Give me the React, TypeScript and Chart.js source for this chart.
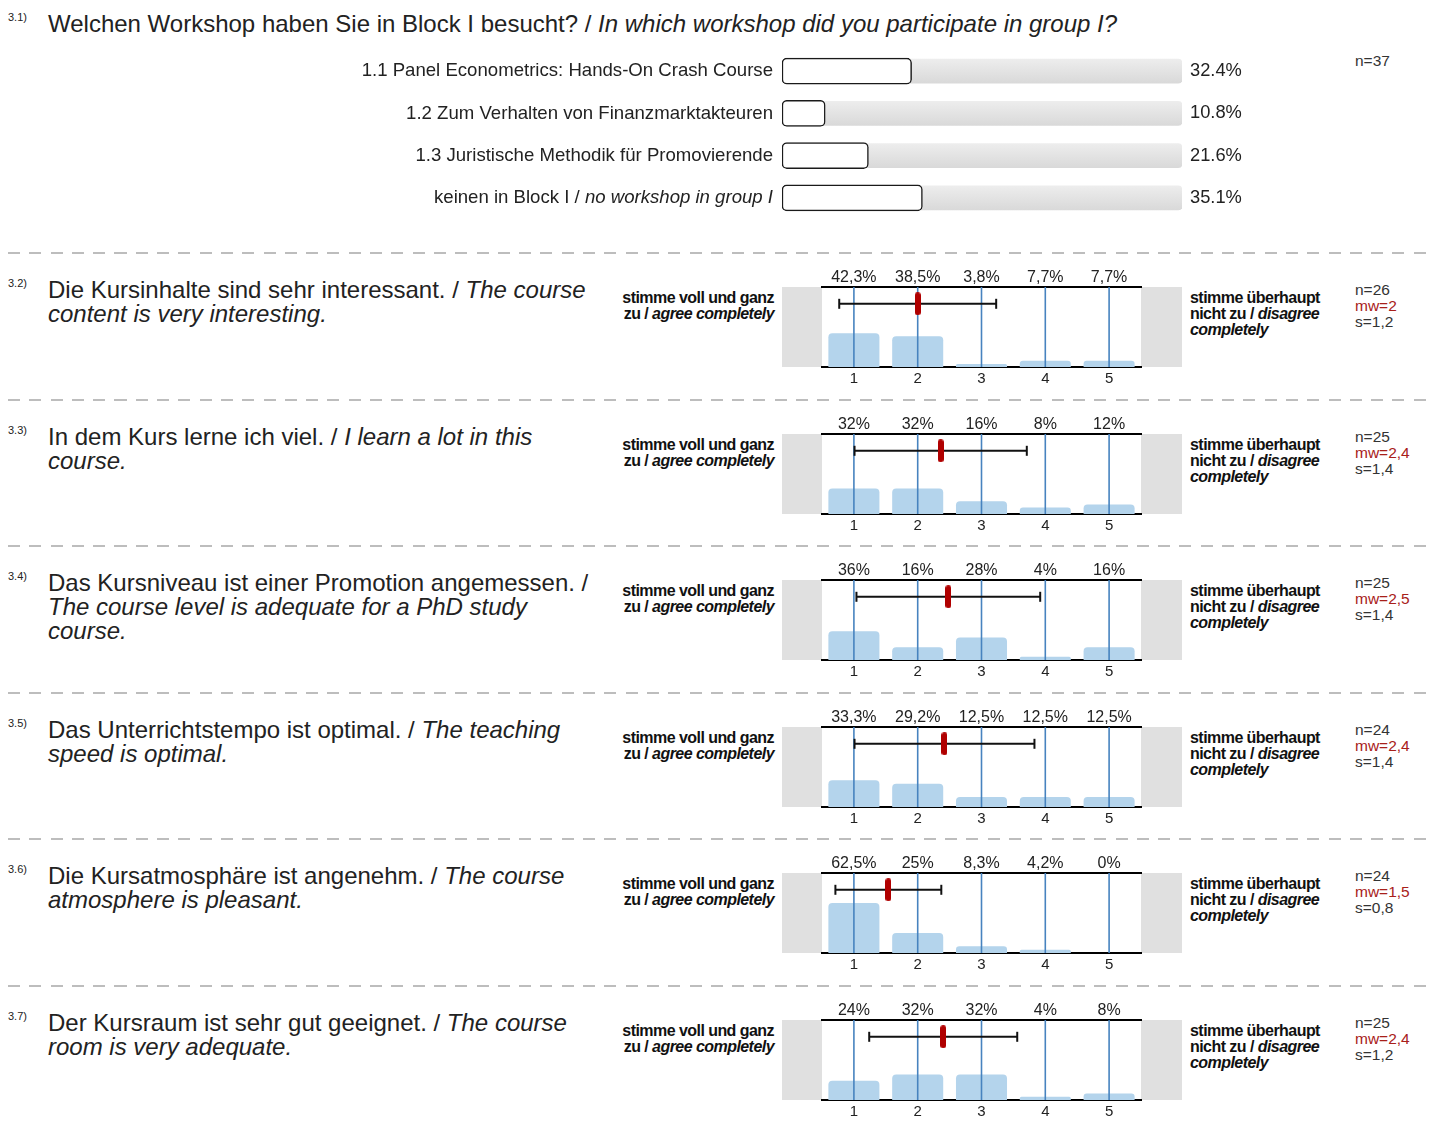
import React, { useEffect, useRef } from "react";
import { Chart, registerables } from "chart.js";

Chart.register(...registerables);

const FONT = '"Liberation Sans", Arial, Helvetica, sans-serif';
const TEXT = "#222222";

// ---------- 3.1 data ----------
const workshopLabels = [
  "1.1 Panel Econometrics: Hands-On Crash Course",
  "1.2 Zum Verhalten von Finanzmarktakteuren",
  "1.3 Juristische Methodik für Promovierende",
  "keinen in Block I / no workshop in group I",
];
const workshopPct = [32.4, 10.8, 21.6, 35.1];
const workshopN = 37;
const TRACK_MAX = 100;

// ---------- scale questions ----------
const scaleTicks = [1, 2, 3, 4, 5];
const q32Pct = [42.3, 38.5, 3.8, 7.7, 7.7];
const q33Pct = [32, 32, 16, 8, 12];
const q34Pct = [36, 16, 28, 4, 16];
const q35Pct = [33.3, 29.2, 12.5, 12.5, 12.5];
const q36Pct = [62.5, 25, 8.3, 4.2, 0];
const q37Pct = [24, 32, 32, 4, 8];
const questionPct = [q32Pct, q33Pct, q34Pct, q35Pct, q36Pct, q37Pct];
const questionIds = ["3.2)", "3.3)", "3.4)", "3.5)", "3.6)", "3.7)"];
const questionN = [26, 25, 25, 24, 24, 25];
const questionMean = [2.0, 2.36, 2.48, 2.42, 1.54, 2.4];
const questionSd = [1.23, 1.35, 1.44, 1.41, 0.83, 1.16];

type Seg = { t: string; i?: boolean };
const questionLines: Seg[][][] = [
  [[{ t: "Die Kursinhalte sind sehr interessant. / " }, { t: "The course", i: true }], [{ t: "content is very interesting.", i: true }]],
  [[{ t: "In dem Kurs lerne ich viel. / " }, { t: "I learn a lot in this", i: true }], [{ t: "course.", i: true }]],
  [[{ t: "Das Kursniveau ist einer Promotion angemessen. /" }], [{ t: "The course level is adequate for a PhD study", i: true }], [{ t: "course.", i: true }]],
  [[{ t: "Das Unterrichtstempo ist optimal. / " }, { t: "The teaching", i: true }], [{ t: "speed is optimal.", i: true }]],
  [[{ t: "Die Kursatmosphäre ist angenehm. / " }, { t: "The course", i: true }], [{ t: "atmosphere is pleasant.", i: true }]],
  [[{ t: "Der Kursraum ist sehr gut geeignet. / " }, { t: "The course", i: true }], [{ t: "room is very adequate.", i: true }]],
];

const ERR_Y = 79;

const fmtPct = (v: number) => String(v).replace(".", ",") + "%";
const fmtStat = (v: number) => {
  const r = Math.round(v * 10 + 1e-9) / 10;
  return (Number.isInteger(r) ? String(r) : r.toFixed(1)).replace(".", ",");
};

function makeMarker(): HTMLCanvasElement {
  const c = document.createElement("canvas");
  const w = 6, h = 23, r = 3;
  c.width = w;
  c.height = h;
  const g = c.getContext("2d")!;
  g.fillStyle = "#b00000";
  g.beginPath();
  g.moveTo(0, r);
  g.arc(r, r, r, Math.PI, 2 * Math.PI);
  g.lineTo(w, h - r);
  g.arc(r, h - r, r, 0, Math.PI);
  g.closePath();
  g.fill();
  return c;
}

function ChartCanvas(props: { left: number; top: number; width: number; height: number; build: () => any }) {
  const ref = useRef<HTMLCanvasElement>(null);
  useEffect(() => {
    const chart = new Chart(ref.current!, props.build());
    return () => chart.destroy();
  }, []);
  return (
    <canvas
      ref={ref}
      width={props.width}
      height={props.height}
      style={{ position: "absolute", left: props.left, top: props.top, width: props.width, height: props.height }}
    />
  );
}

function workshopConfig() {
  const labelPlugin = {
    id: "wsLabels",
    afterDraw(chart: any) {
      const { ctx, chartArea } = chart;
      const y = chart.scales.y;
      ctx.save();
      ctx.fillStyle = TEXT;
      ctx.textBaseline = "middle";
      workshopLabels.forEach((lab, i) => {
        const py = y.getPixelForValue(i);
        const parts = lab.split(" / ");
        const segs: Seg[] = parts.length > 1 ? [{ t: parts[0] + " / " }, { t: parts.slice(1).join(" / "), i: true }] : [{ t: lab }];
        let x = chartArea.left - 9;
        ctx.textAlign = "right";
        for (let k = segs.length - 1; k >= 0; k--) {
          ctx.font = `${segs[k].i ? "italic " : ""}18.6px ${FONT}`;
          ctx.fillText(segs[k].t, x, py);
          x -= ctx.measureText(segs[k].t).width;
        }
        ctx.textAlign = "left";
        ctx.font = `18.3px ${FONT}`;
        ctx.fillText(workshopPct[i].toFixed(1) + "%", chartArea.right + 8, py);
      });
      ctx.restore();
    },
  };
  return {
    type: "bar",
    data: {
      labels: workshopLabels,
      datasets: [
        {
          data: workshopPct,
          backgroundColor: "#ffffff",
          borderColor: "#1a1a1a",
          borderWidth: 1.5,
          borderRadius: 5,
          borderSkipped: false,
          barThickness: 26,
          grouped: false,
          order: 0,
        },
        {
          data: workshopPct.map(() => TRACK_MAX),
          backgroundColor: (c: any) => {
            const ch = c.chart;
            const ys = ch.scales && ch.scales.y;
            if (!ys || c.dataIndex === undefined) return "#e2e2e2";
            const py = ys.getPixelForValue(c.dataIndex);
            if (!isFinite(py)) return "#e2e2e2";
            const g = ch.ctx.createLinearGradient(0, py - 12, 0, py + 12);
            g.addColorStop(0, "#ededed");
            g.addColorStop(1, "#d9d9d9");
            return g;
          },
          borderWidth: 0,
          borderRadius: 4,
          borderSkipped: false,
          barThickness: 24,
          grouped: false,
          order: 1,
        },
      ],
    },
    options: {
      indexAxis: "y",
      responsive: false,
      animation: false,
      events: [],
      layout: { padding: { left: 482, right: 118, top: 10, bottom: 11 } },
      scales: {
        x: { display: false, min: 0, max: TRACK_MAX },
        y: { display: false },
      },
      plugins: { legend: { display: false }, tooltip: { enabled: false } },
    },
    plugins: [labelPlugin],
  };
}

function scaleConfig(qi: number, marker: HTMLCanvasElement) {
  const pct = questionPct[qi];
  const mean = questionMean[qi];
  const sd = questionSd[qi];
  const sidePlugin = {
    id: "sides",
    beforeDraw(chart: any) {
      const { ctx, chartArea, width } = chart;
      ctx.save();
      ctx.fillStyle = "#e0e0e0";
      ctx.fillRect(0, chartArea.top, chartArea.left, chartArea.bottom - chartArea.top);
      ctx.fillRect(chartArea.right, chartArea.top, width - chartArea.right, chartArea.bottom - chartArea.top);
      ctx.restore();
    },
    afterDatasetDraw(chart: any, args: any) {
      if (args.index !== 0) return;
      const { ctx, chartArea } = chart;
      const xs = chart.scales.x;
      ctx.save();
      ctx.strokeStyle = "#4783bf";
      ctx.lineWidth = 1.6;
      scaleTicks.forEach((t) => {
        const px = xs.getPixelForValue(t);
        ctx.beginPath();
        ctx.moveTo(px, chartArea.top);
        ctx.lineTo(px, chartArea.bottom);
        ctx.stroke();
      });
      ctx.restore();
    },
  };
  const setTicks = (s: any) => {
    s.ticks = scaleTicks.map((v) => ({ value: v }));
  };
  return {
    type: "bar",
    data: {
      datasets: [
        {
          type: "bar",
          data: scaleTicks.map((x, i) => ({ x, y: pct[i] })),
          backgroundColor: "#b4d4ec",
          borderRadius: 4,
          borderSkipped: "start",
          barPercentage: 0.8,
          categoryPercentage: 1,
          order: 3,
        },
        {
          type: "line",
          data: [
            { x: mean - sd, y: ERR_Y },
            { x: mean + sd, y: ERR_Y },
          ],
          borderColor: "#111111",
          borderWidth: 2,
          pointStyle: "line",
          pointRotation: 90,
          pointRadius: 5,
          pointBorderWidth: 2,
          pointBorderColor: "#111111",
          order: 2,
        },
        {
          type: "line",
          data: [{ x: mean, y: ERR_Y }],
          showLine: false,
          pointStyle: marker,
          pointRadius: 4,
          order: 1,
        },
      ],
    },
    options: {
      responsive: false,
      animation: false,
      events: [],
      layout: { padding: { left: 40, right: 41, top: 0, bottom: 0 } },
      scales: {
        x: {
          type: "linear",
          position: "bottom",
          min: 0.5,
          max: 5.5,
          offset: false,
          afterBuildTicks: setTicks,
          afterFit: (s: any) => {
            s.height = 24;
          },
          grid: { display: false, drawTicks: false, offset: false },
          border: { display: true, color: "#000000", width: 2 },
          ticks: {
            autoSkip: false,
            maxRotation: 0,
            padding: 3,
            color: TEXT,
            font: { family: FONT, size: 15 },
            callback: (v: any) => String(v),
          },
        },
        x2: {
          type: "linear",
          position: "top",
          axis: "x",
          min: 0.5,
          max: 5.5,
          offset: false,
          afterBuildTicks: setTicks,
          afterFit: (s: any) => {
            s.height = 24;
          },
          grid: { display: false, drawTicks: false },
          border: { display: true, color: "#000000", width: 2 },
          ticks: {
            autoSkip: false,
            maxRotation: 0,
            padding: 0,
            color: TEXT,
            font: { family: FONT, size: 16 },
            callback: (_v: any, idx: number) => fmtPct(pct[idx]),
          },
        },
        y: { display: false, min: 0, max: 100 },
      },
      plugins: { legend: { display: false }, tooltip: { enabled: false } },
    },
    plugins: [sidePlugin],
  };
}

const SEP_START = 253;
const SEP_STEP = 146.6;

function Separator({ top }: { top: number }) {
  return (
    <div
      style={{
        position: "absolute",
        left: 8,
        top: top - 1,
        width: 1422,
        height: 2,
        background: "repeating-linear-gradient(to right, #bdbdbd 0px, #bdbdbd 12px, transparent 12px, transparent 21.3px)",
      }}
    />
  );
}

function Segs({ segs }: { segs: Seg[] }) {
  return (
    <>
      {segs.map((s, k) => (
        <span key={k} style={{ fontStyle: s.i ? "italic" : "normal" }}>
          {s.t}
        </span>
      ))}
    </>
  );
}

const anchorStyle: React.CSSProperties = {
  position: "absolute",
  fontSize: 16,
  fontWeight: "bold",
  lineHeight: "16px",
  letterSpacing: "-0.55px",
  color: "#111",
  whiteSpace: "nowrap",
};

function QuestionBlock({ qi, marker }: { qi: number; marker: HTMLCanvasElement }) {
  const S = SEP_START + SEP_STEP * qi;
  return (
    <>
      <Separator top={S} />
      <div style={{ position: "absolute", left: 8, top: S + 30 - 7, fontSize: 11, lineHeight: "14px", color: TEXT }}>{questionIds[qi]}</div>
      <div style={{ position: "absolute", left: 48, top: S + 25, fontSize: 24, lineHeight: "24px", color: TEXT, whiteSpace: "nowrap" }}>
        {questionLines[qi].map((line, k) => (
          <div key={k}>
            <Segs segs={line} />
          </div>
        ))}
      </div>
      <div style={{ ...anchorStyle, left: 474, width: 300, top: S + 37, textAlign: "right" }}>
        <div>stimme voll und ganz</div>
        <div>
          zu / <i>agree completely</i>
        </div>
      </div>
      <div style={{ ...anchorStyle, left: 1190, top: S + 37 }}>
        <div>stimme überhaupt</div>
        <div>
          nicht zu / <i>disagree</i>
        </div>
        <div>
          <i>completely</i>
        </div>
      </div>
      <div style={{ position: "absolute", left: 1355, top: S + 29, fontSize: 15.5, lineHeight: "16px", color: "#333", whiteSpace: "nowrap" }}>
        <div>n={questionN[qi]}</div>
        <div style={{ color: "#a8201a" }}>mw={fmtStat(questionMean[qi])}</div>
        <div>s={fmtStat(questionSd[qi])}</div>
      </div>
      <ChartCanvas left={782} top={S + 10} width={400} height={128} build={() => scaleConfig(qi, marker)} />
    </>
  );
}

export default function App() {
  const markerRef = useRef<HTMLCanvasElement | null>(null);
  if (!markerRef.current) markerRef.current = makeMarker();
  const marker = markerRef.current;
  return (
    <div
      style={{
        position: "absolute",
        left: 0,
        top: 0,
        width: 1430,
        height: 1124,
        background: "#ffffff",
        fontFamily: FONT,
        color: TEXT,
        overflow: "hidden",
      }}
    >
      <div style={{ position: "absolute", left: 8, top: 10, fontSize: 11, lineHeight: "14px" }}>3.1)</div>
      <div style={{ position: "absolute", left: 48, top: 12, fontSize: 24, lineHeight: "24px", whiteSpace: "nowrap" }}>
        Welchen Workshop haben Sie in Block I besucht? / <i>In which workshop did you participate in group I?</i>
      </div>
      <div style={{ position: "absolute", left: 1355, top: 52, fontSize: 15.5, lineHeight: "18px", color: "#333" }}>n={workshopN}</div>
      <ChartCanvas left={300} top={40} width={1000} height={190} build={workshopConfig} />
      {questionPct.map((_, qi) => (
        <QuestionBlock key={qi} qi={qi} marker={marker} />
      ))}
    </div>
  );
}
